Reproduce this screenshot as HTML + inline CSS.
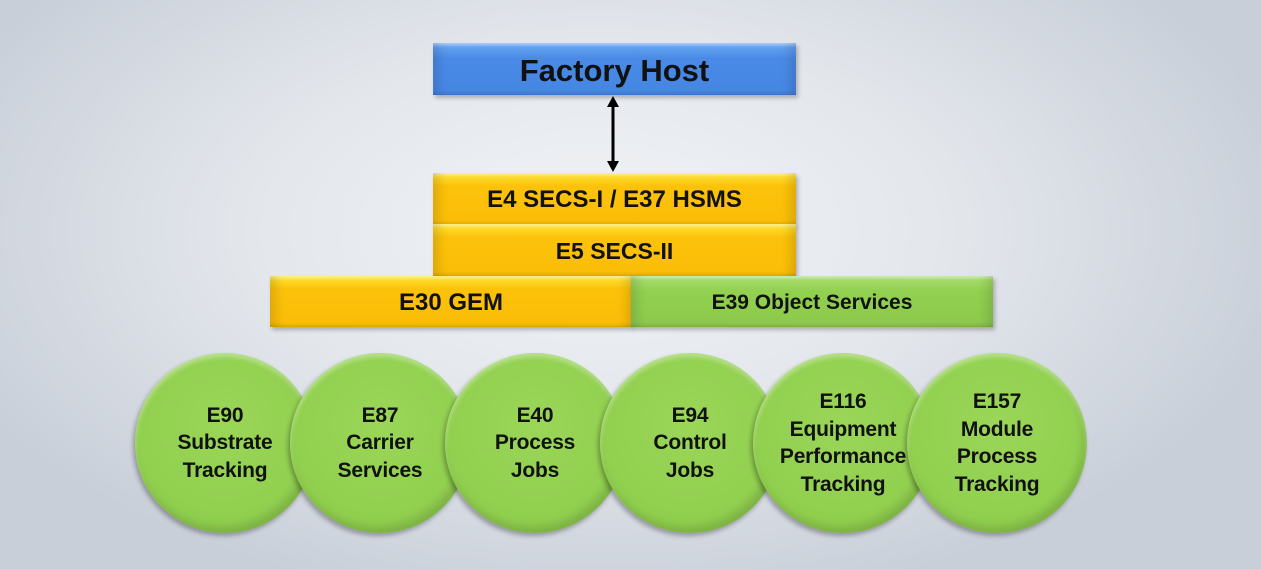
<!DOCTYPE html>
<html><head><style>
body{margin:0;width:1261px;height:569px;overflow:hidden;font-family:"Liberation Sans",sans-serif;font-weight:bold;
background:radial-gradient(ellipse 700px 380px at 600px 230px,#f1f3f6 0%,#e3e7ec 50%,#c9cfd9 100%);position:relative}
.b{position:absolute;box-sizing:border-box;display:flex;align-items:center;justify-content:center;color:#111;
box-shadow:inset 14px 0 10px -8px rgba(0,0,0,0.12),inset -14px 0 10px -8px rgba(0,0,0,0.12),inset 0 4px 3px -2px rgba(255,255,255,0.5),inset 0 -4px 3px -2px rgba(0,0,0,0.12),2px 3px 4px rgba(0,0,0,0.25)}
.y{background:linear-gradient(#fde63a 0%,#fcc20a 25%,#fbbd08 100%)}
.g{background:linear-gradient(#a8dd70 0%,#92d050 30%,#8cc94c 100%)}
.c{position:absolute;width:180px;height:180px;border-radius:50%;top:353px;display:flex;align-items:center;justify-content:center;text-align:center;
background:radial-gradient(circle at 50% 40%,#9ad658 0%,#92d050 60%,#86c446 100%);
box-shadow:inset 0 4px 5px rgba(255,255,255,0.35),inset -4px -6px 8px rgba(0,0,0,0.12),-2px 3px 5px rgba(0,0,0,0.3);
font-size:21px;line-height:27.5px;color:#111;letter-spacing:-0.2px}
</style></head><body>
<div class="b" style="left:433px;top:43px;width:363px;height:52px;background:linear-gradient(#6aa8f2,#4a8ae6 30%,#4686e4);font-size:31px;padding-top:4px">Factory Host</div>
<svg style="position:absolute;left:600px;top:94px" width="26" height="80">
<line x1="13" y1="10" x2="13" y2="70" stroke="#000" stroke-width="3"/>
<polygon points="13,2 7,13 19,13" fill="#000"/><polygon points="13,78 7,67 19,67" fill="#000"/></svg>
<div class="b y" style="left:433px;top:173px;width:363px;height:52px;font-size:24px;padding-top:2px">E4 SECS-I / E37 HSMS</div>
<div class="b y" style="left:433px;top:224px;width:363px;height:52px;font-size:23px;padding-top:2px">E5 SECS-II</div>
<div class="b y" style="left:270px;top:276px;width:362px;height:51px;font-size:24px;padding-top:2px">E30 GEM</div>
<div class="b g" style="left:631px;top:276px;width:362px;height:51px;font-size:21px;padding-top:2px">E39 Object Services</div>
<div class="c" style="left:135px">E90<br>Substrate<br>Tracking</div>
<div class="c" style="left:290px">E87<br>Carrier<br>Services</div>
<div class="c" style="left:445px">E40<br>Process<br>Jobs</div>
<div class="c" style="left:600px">E94<br>Control<br>Jobs</div>
<div class="c" style="left:753px">E116<br>Equipment<br>Performance<br>Tracking</div>
<div class="c" style="left:907px">E157<br>Module<br>Process<br>Tracking</div>
</body></html>
